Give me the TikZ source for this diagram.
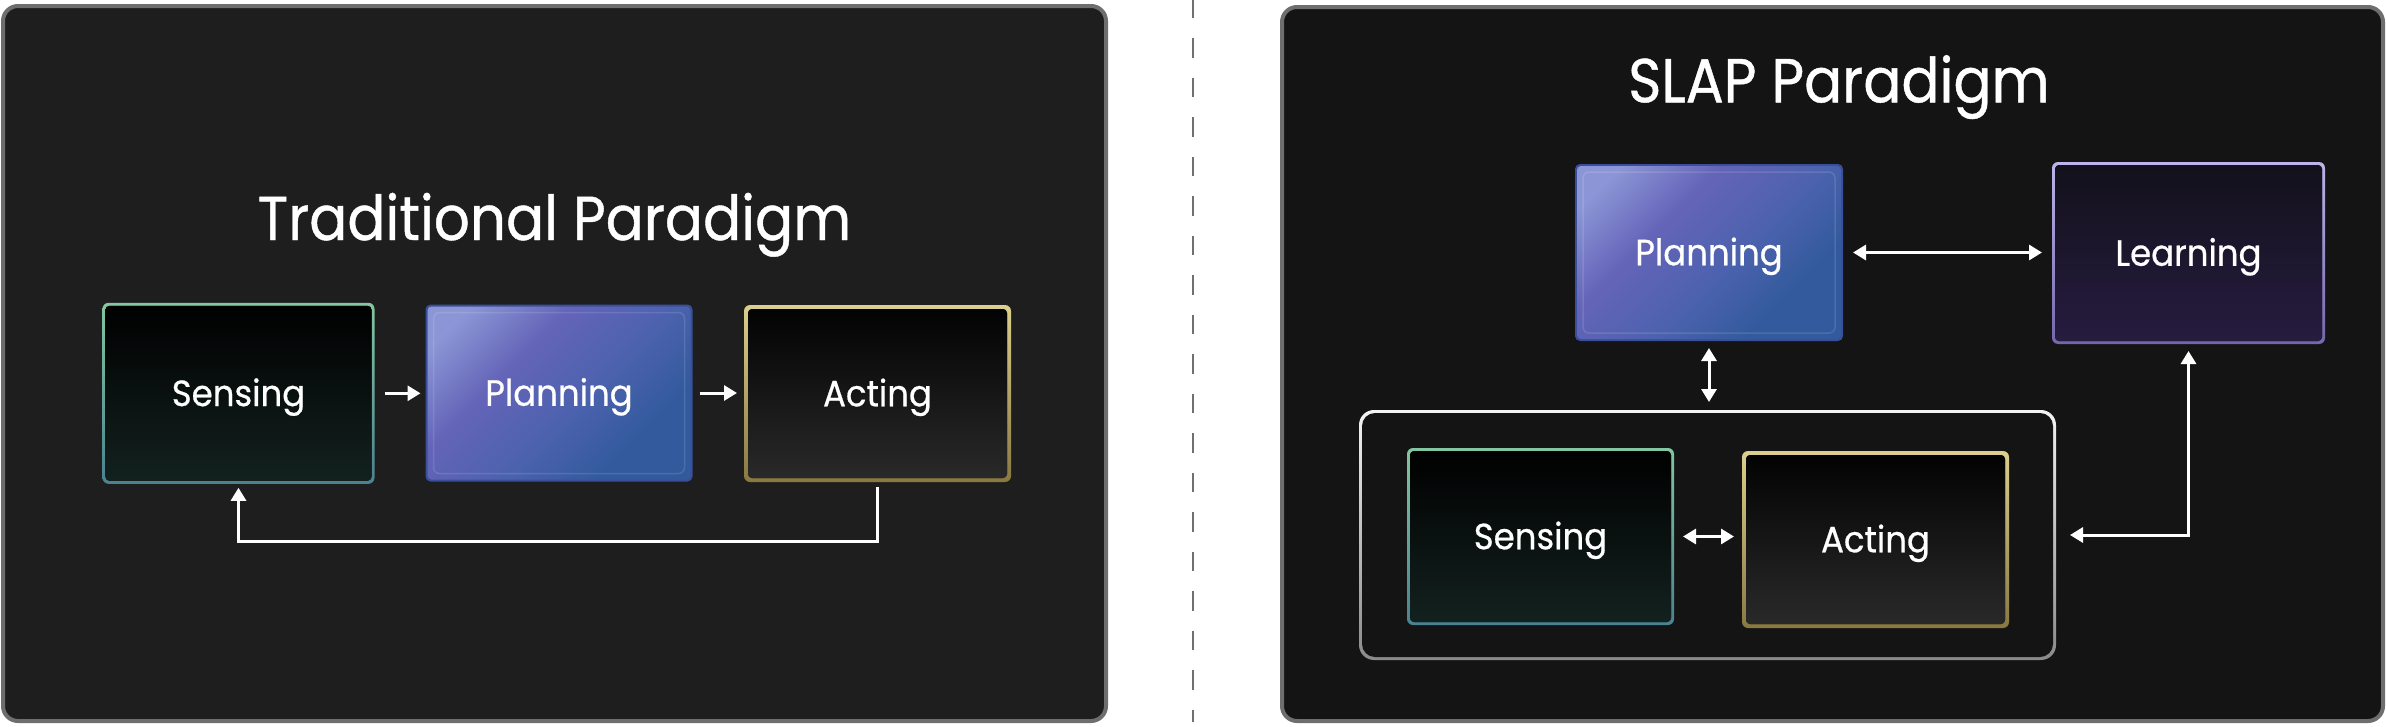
\documentclass[tikz,border=0pt]{standalone}
\usepackage{fontspec}
\setmainfont{Poppins}
\newfontfamily\ttlfont[FakeStretch=0.91, FakeBold=0.7]{Poppins}
\newfontfamily\lblfont[FakeStretch=0.93, FakeBold=0.6]{Poppins}
\usetikzlibrary{arrows.meta,calc}
\definecolor{lpanel}{HTML}{1E1E1E}
\definecolor{rpanel}{HTML}{141414}
\definecolor{pborder}{HTML}{6E6E6E}
\definecolor{sensTop}{HTML}{000000}
\definecolor{sensBot}{HTML}{13221F}
\definecolor{sensBTop}{HTML}{82C6A2}
\definecolor{sensBBot}{HTML}{4A8290}
\definecolor{actTop}{HTML}{020202}
\definecolor{actBot}{HTML}{2A2A2A}
\definecolor{actBTop}{HTML}{DCCE8C}
\definecolor{actBBot}{HTML}{8A7842}
\definecolor{lrnTop}{HTML}{13111B}
\definecolor{lrnBot}{HTML}{261C40}
\definecolor{lrnBTop}{HTML}{BCB4EA}
\definecolor{lrnBBot}{HTML}{7466AC}
\definecolor{planBorder}{HTML}{3A4F9C}
\definecolor{planA}{HTML}{8C96D6}
\definecolor{planB}{HTML}{6464B8}
\definecolor{planC}{HTML}{4C62AE}
\definecolor{planD}{HTML}{325A9C}
\definecolor{grpBTop}{HTML}{F4F4F4}
\definecolor{grpBBot}{HTML}{8A8A8A}
\definecolor{divider}{HTML}{707070}
\pgfdeclarehorizontalshading{planshade}{100bp}{color(0bp)=(planA); color(22bp)=(planA); color(38bp)=(planB); color(55bp)=(planC); color(70bp)=(planD); color(100bp)=(planD)}
\tikzset{
  panel/.style={draw=pborder, line width=4pt, rounded corners=15pt, inner sep=0pt, outer sep=0pt},
  ttl/.style={text=white, font=\ttlfont\fontsize{62}{70}\selectfont, inner sep=0pt},
  lbl/.style={text=white, font=\lblfont\fontsize{36.5}{40}\selectfont, inner sep=0pt, outer sep=0pt,
              text height=25.5pt, text depth=0pt, align=center},
  boxbase/.style={lbl, rounded corners=6pt, minimum width=267pt, minimum height=177pt},
  gradbox/.style n args={5}{boxbase, top color=#1, bottom color=#2,
    path picture={\fill[top color=#3, bottom color=#4, rounded corners=4pt]
      ([shift={(#5,#5)}]path picture bounding box.south west) rectangle
      ([shift={(-#5,-#5)}]path picture bounding box.north east);}},
  sensbox/.style={gradbox={sensBTop}{sensBBot}{sensTop}{sensBot}{3pt}},
  actbox/.style={gradbox={actBTop}{actBBot}{actTop}{actBot}{4pt}},
  lrnbox/.style={gradbox={lrnBTop}{lrnBBot}{lrnTop}{lrnBot}{3pt}},
  planbox/.style={boxbase, fill=planBorder, rounded corners=5pt,
    path picture={
      \fill[shading=planshade, shading angle=-45, rounded corners=4pt]
      ([shift={(2pt,2pt)}]path picture bounding box.south west) rectangle
      ([shift={(-2pt,-2pt)}]path picture bounding box.north east);
      \draw[white, opacity=0.12, line width=1.5pt, rounded corners=6pt]
      ([shift={(8pt,8pt)}]path picture bounding box.south west) rectangle
      ([shift={(-8pt,-8pt)}]path picture bounding box.north east);}},
  grpbox/.style={top color=grpBTop, bottom color=grpBBot, rounded corners=15pt, inner sep=0pt, outer sep=0pt,
    path picture={\fill[rpanel, rounded corners=13pt]
      ([shift={(3pt,3pt)}]path picture bounding box.south west) rectangle
      ([shift={(-3pt,-3pt)}]path picture bounding box.north east);}},
  arr/.style={white, line width=3pt, -{Triangle[length=13pt, width=15pt]}},
  darr/.style={white, line width=3pt, {Triangle[length=13pt, width=15pt]}-{Triangle[length=13pt, width=15pt]}},
}
\begin{document}
\begin{tikzpicture}[x=1pt, y=-1pt]
\useasboundingbox (0,0) rectangle (2386,726);
% panels
\node[panel, fill=lpanel, minimum width=1103pt, minimum height=715pt] (lp) at (554.5,363.5) {};
\node[panel, fill=rpanel, minimum width=1101pt, minimum height=714pt] (rp) at (1832.5,364) {};
% divider
\coordinate (dtop) at (1193,-1.5);
\coordinate (dbot) at (1193,722);
\draw[divider, line width=2.5pt, dash pattern=on 19.5pt off 20pt] (dtop) -- (dbot);
% titles
\node[ttl, anchor=base] (t1) at (554.5,240) {Traditional Paradigm};
\node[ttl, anchor=base] (t2) at (1839,102.3) {SLAP Paradigm};
% traditional
\node[sensbox, minimum width=272pt, minimum height=181pt] (s1) at (238.5,393.3) {Sensing};
\node[planbox] (p1) at (559,393) {Planning};
\node[actbox] (a1) at (877.5,393.5) {Acting};
\draw[arr, shorten <=10pt, shorten >=5pt] (s1.east) -- (s1.east -| p1.west);
\draw[arr, shorten <=7pt, shorten >=7pt] (p1.east) -- (p1.east -| a1.west);
\coordinate (fb) at (560,541.5);
\draw[arr, shorten <=5pt, shorten >=4pt] (a1.south) |- (fb) -| (s1.south);
% SLAP
\node[grpbox, minimum width=697pt, minimum height=250pt] (g) at (1707.5,535) {};
\node[planbox, minimum width=268pt] (p2) at (1709,252.5) {Planning};
\node[lrnbox, minimum width=273pt, minimum height=182pt] (l2) at (2188.5,253) {Learning};
\node[sensbox] (s2) at (1540.5,536.5) {Sensing};
\node[actbox] (a2) at (1875.5,539.5) {Acting};
\draw[darr, shorten <=10pt, shorten >=10pt] (p2.east) -- (p2.east -| l2.west);
\draw[darr, shorten <=7pt, shorten >=8pt] (p2.south) -- (p2.south |- g.north);
\draw[darr, shorten <=9pt, shorten >=8pt] (s2.east) -- (s2.east -| a2.west);
\draw[darr, shorten <=14pt, shorten >=7pt] (g.east) -| (l2.south);
\end{tikzpicture}
\end{document}
